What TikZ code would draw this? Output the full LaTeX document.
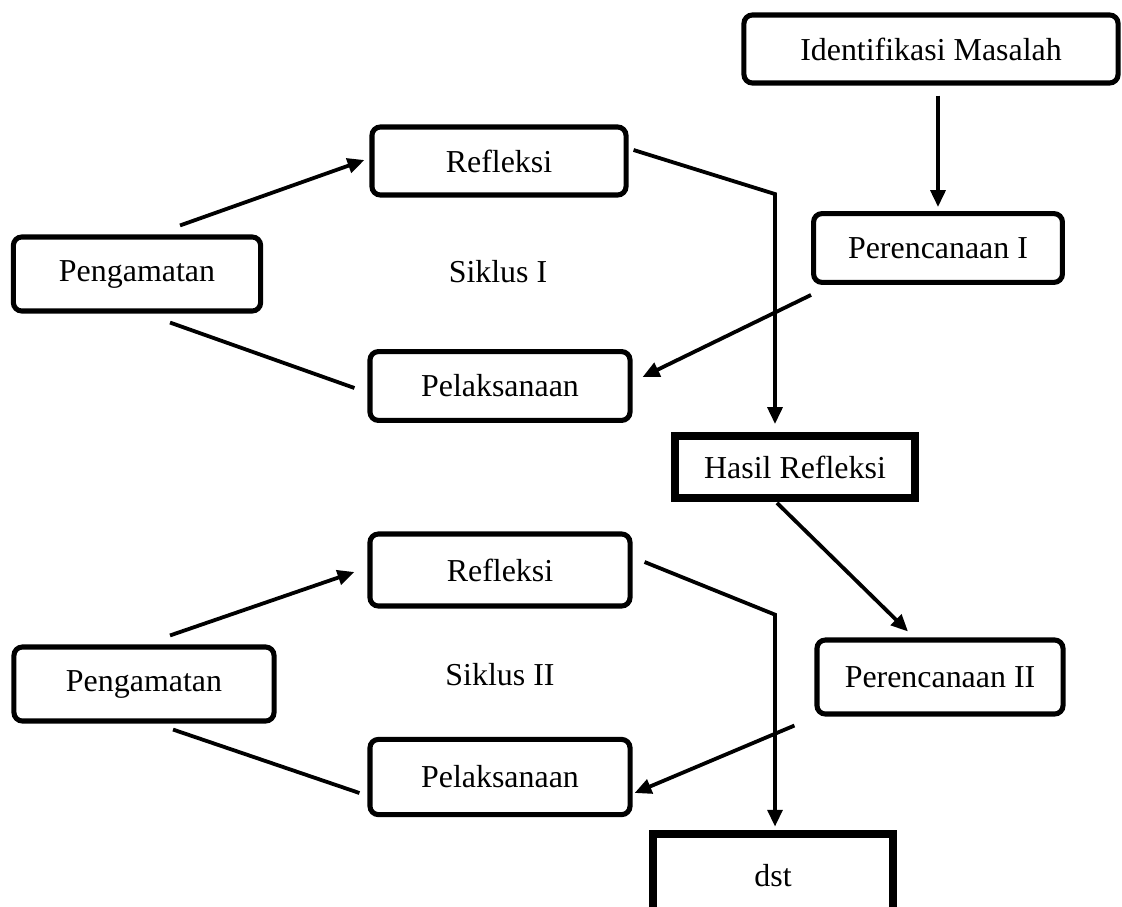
\documentclass[tikz,border=0pt]{standalone}
\usepackage{fontspec}
\setmainfont{Liberation Serif}
\usetikzlibrary{arrows.meta}
\begin{document}
\begin{tikzpicture}[x=0.025cm, y=-0.025cm,
    font=\fontsize{22.7pt}{27pt}\selectfont,
    box/.style = {draw, line width=3.6pt, rounded corners=6pt, inner sep=0pt},
    hasil/.style = {draw, line width=5.6pt, inner sep=0pt},
    arr/.style = {line width=2.7pt, -{Triangle[length=12pt,width=10.5pt]}},
    ln/.style = {line width=2.7pt}]
    \useasboundingbox (0,0) rectangle (1122,906);
    % kotak-kotak siklus
    \node[box, minimum width=9.35cm, minimum height=1.7cm] (idm) at (931,49) {Identifikasi Masalah};
    \node[box, minimum width=6.22cm, minimum height=1.72cm] (per1) at (938,248) {Perencanaan I};
    \node[box, minimum width=6.35cm, minimum height=1.7cm] (ref1) at (499,161) {Refleksi};
    \node[box, minimum width=6.18cm, minimum height=1.85cm] (pen1) at (137,274) {Pengamatan};
    \node[box, minimum width=6.5cm, minimum height=1.72cm] (pel1) at (500,386) {Pelaksanaan};
    \node (sik1) at (498,272) {Siklus I};
    \node[hasil, minimum width=5.98cm, minimum height=1.55cm] (has) at (795,467) {Hasil Refleksi};

    \node[box, minimum width=6.5cm, minimum height=1.8cm] (ref2) at (500,570) {Refleksi};
    \node[box, minimum width=6.5cm, minimum height=1.85cm] (pen2) at (144,684) {Pengamatan};
    \node[box, minimum width=6.5cm, minimum height=1.88cm] (pel2) at (500,777) {Pelaksanaan};
    \node (sik2) at (500,675) {Siklus II};
    \node[box, minimum width=6.15cm, minimum height=1.85cm] (per2) at (940,677) {Perencanaan II};
    \node[hasil, minimum width=6cm, minimum height=2.12cm] (dst) at (773,876) {dst};

    \draw[arr] ([shift={(7,10)}]idm.south) -- ([shift={(0,-4)}]per1.north);
    \draw[arr] ([shift={(43,-9)}]pen1.north) -- ([shift={(-5,-1)}]ref1.west);
    \draw[ln] ([shift={(33,9)}]pen1.south) -- ([shift={(-13,2)}]pel1.west);
    \draw[arr] ([shift={(5,-11)}]ref1.east) -- ([shift={(-20,-238)}]has.north) -- ([shift={(-20,-8)}]has.north);
    \draw[arr] ([shift={(0,10)}]per1.south west) -- ([shift={(10,-9)}]pel1.east);

    \draw[arr] ([shift={(-18,1)}]has.south) -- ([shift={(-32,-6)}]per2.north);
    \draw[arr] ([shift={(26,-9)}]pen2.north) -- ([shift={(-13,2)}]ref2.west);
    \draw[ln] ([shift={(29,6)}]pen2.south) -- ([shift={(-8,16)}]pel2.west);
    \draw[arr] ([shift={(12,-8)}]ref2.east) -- ([shift={(2,-215)}]dst.north) -- ([shift={(2,-3)}]dst.north);
    \draw[arr] ([shift={(-20,9)}]per2.south west) -- ([shift={(2,16)}]pel2.east);
\end{tikzpicture}
\end{document}
